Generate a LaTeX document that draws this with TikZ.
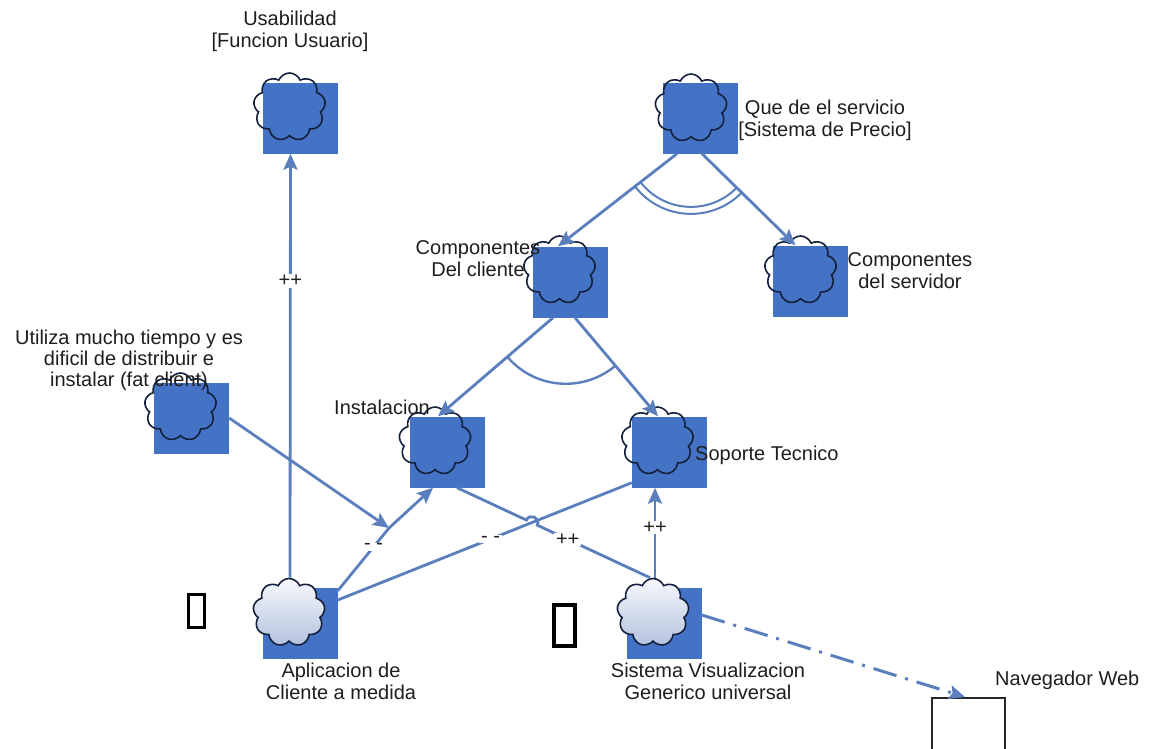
\documentclass[tikz,border=0pt]{standalone}
\usepackage{fontspec}
\setmainfont{Liberation Sans}
\usetikzlibrary{shapes.symbols,arrows.meta,calc}
\definecolor{goalblue}{HTML}{4472C4}
\definecolor{linkblue}{HTML}{5B7EBD}
\definecolor{puffline}{HTML}{14213D}
\definecolor{txt}{HTML}{1E1E1E}
\definecolor{softtop}{HTML}{F6F8FC}
\definecolor{softbot}{HTML}{B3C2DE}

\begin{document}
\begin{tikzpicture}[x=1pt,y=-1pt,
  goalbox/.style={rectangle, fill=goalblue, minimum width=75pt, minimum height=71pt, inner sep=0pt},
  puff/.style={cloud, cloud puffs=9, cloud puff arc=135, aspect=1.05, minimum width=72pt, minimum height=68pt, inner sep=0pt, draw=puffline, line width=1.6pt},
  softpuff/.style={puff, top color=softtop, bottom color=softbot},
  link/.style={draw=linkblue, line width=2.8pt},
  tip/.style={-{Stealth[length=16pt,width=14pt,inset=3pt]}},
  lbl/.style={font=\fontsize{20}{22}\selectfont, text=txt, inner sep=0pt, align=center},
  linklbl/.style={lbl, fill=white, inner xsep=2pt, inner ysep=1pt},
  tofu/.style={draw=black, inner sep=0pt}
]
\fill[white] (0,0) rectangle (1152,748);
\useasboundingbox (0,0) rectangle (1152,748);

% goals: blue square with a cloud outline on top
\node[goalbox] (usab)  at (300.5,118) {};
\node[goalbox] (que)   at (700,118) {};
\node[goalbox] (compc) at (570.5,282) {};
\node[goalbox] (comps) at (810.5,281) {};
\node[goalbox] (fat)   at (191.5,418) {};
\node[goalbox] (inst)  at (447,452) {};
\node[goalbox] (sop)   at (669.5,452) {};
\node[goalbox] (apl)   at (300,623.5) {};
\node[goalbox] (sis)   at (664,623.5) {};

\node[puff] (usabP)  at ($(usab)+(-11,-11)$) {};
\node[puff] (queP)   at ($(que)+(-9,-10)$) {};
\node[puff] (compcP) at ($(compc)+(-11,-12)$) {};
\node[puff] (compsP) at ($(comps)+(-10,-11)$) {};
\node[puff] (fatP)   at ($(fat)+(-11,-11)$) {};
\node[puff] (instP)  at ($(inst)+(-12,-11)$) {};
\node[puff] (sopP)   at ($(sop)+(-12,-11)$) {};
\node[softpuff] (aplP) at ($(apl)+(-11,-11)$) {};
\node[softpuff] (sisP) at ($(sis)+(-11,-11)$) {};

% labels
\node[lbl] (usabL)  at (290,31) {Usabilidad\\{[}Funcion Usuario{]}};
\node[lbl] (queL)   at (825,120) {Que de el servicio\\{[}Sistema de Precio{]}};
\node[lbl] (compcL) at (478,259) {Componentes\\Del cliente};
\node[lbl] (compsL) at (910,271) {Componentes\\del servidor};
\node[lbl, font=\fontsize{20}{21}\selectfont] (fatL) at (129,360) {Utiliza mucho tiempo y es\\dificil de distribuir e\\instalar (fat client)};
\node[lbl] (instL)  at (382,407) {Instalacion};
\node[lbl, anchor=west] (sopL) at (695,455) {Soporte Tecnico};
\node[lbl] (aplL)   at (341,681) {Aplicacion de\\Cliente a medida};
\node[lbl] (sisL)   at (708,681) {Sistema Visualizacion\\Generico universal};
\node[lbl, anchor=west] (navL) at (995,680) {Navegador Web};

% unrendered glyph boxes
\node[tofu, line width=3pt, minimum width=16pt, minimum height=33pt] (tofuA) at (196.5,611) {};
\node[tofu, line width=4pt, minimum width=21pt, minimum height=41pt] (tofuB) at (564.5,625.5) {};

% browser box, running off the lower edge
\begin{scope}
  \clip (0,0) rectangle (1152,748);
  \node[draw=black!85, line width=1.8pt, minimum width=73pt, minimum height=90pt, inner sep=0pt, anchor=north west] (nav) at (931,697) {};
\end{scope}

% AND decomposition of the service goal
\coordinate (q1)  at ([xshift=-23pt]que.south);
\coordinate (q1e) at ([xshift=-12.5pt]compc.north);
\coordinate (q2)  at ([xshift=2pt]que.south);
\coordinate (q2e) at ([xshift=-15pt]comps.north);
\draw[link,tip] (q1) -- (q1e);
\draw[link,tip] (q2) -- (q2e);
\coordinate (qa) at (intersection of q1--q1e and q2--q2e);
\begin{scope}
  \clip (qa) -- ($(qa)!3!(q1e)$) -- ($(qa)!3!(q2e)$) -- cycle;
  \draw[draw=linkblue, line width=2pt] (qa) circle[radius=64pt];
  \draw[draw=linkblue, line width=2pt] (qa) circle[radius=71pt];
\end{scope}

% AND decomposition of the client components
\coordinate (c1)  at ([xshift=-17.5pt]compc.south);
\coordinate (c1e) at ([xshift=-9pt]inst.north);
\coordinate (c2)  at ([xshift=4.5pt]compc.south);
\coordinate (c2e) at ([xshift=-11.5pt]sop.north);
\draw[link,tip] (c1) -- (c1e);
\draw[link,tip] (c2) -- (c2e);
\coordinate (ca) at (intersection of c1--c1e and c2--c2e);
\begin{scope}
  \clip (ca) -- ($(ca)!3!(c1e)$) -- ($(ca)!3!(c2e)$) -- cycle;
  \draw[draw=linkblue, line width=2.4pt] (ca) circle[radius=77pt];
\end{scope}

% contributions
\draw[link,tip] ([xshift=1pt]aplP.north) -- node[linklbl,pos=0.70]{++} ([xshift=-10pt]usab.south);

\coordinate (J) at (389,528);
\draw[link,tip] (fat.east) -- (J);
\draw[link,tip] ([yshift=-3pt]apl.north east) -- node[linklbl,pos=0.7]{- -} (J) -- ([xshift=-14pt]inst.south);

\coordinate (a1) at ([yshift=23.5pt]apl.east);
\coordinate (a2) at ([yshift=5pt]sop.south west);
\draw[link] (a1) -- node[linklbl,pos=0.52]{- -} (a2);

\coordinate (s1) at ([xshift=-3pt]sisP.north);
\coordinate (s2) at ([xshift=10pt]inst.south);
\coordinate (X) at (intersection of s1--s2 and a1--a2);
\coordinate (hA) at ($(X)!6pt!(s1)$);
\coordinate (hB) at ($(X)!6pt!(s2)$);
\draw[link] (s1) -- node[linklbl,pos=0.73]{++} (hA)
  .. controls ($(hA)!8pt!-90:(X)$) and ($(hB)!8pt!90:(X)$) .. (hB) -- (s2);

\draw[link,tip] ([xshift=2pt]sisP.north) -- node[linklbl,pos=0.56]{++} ([xshift=-14.5pt]sop.south);

% dependency on the web browser
\draw[link,tip,line width=3pt,dash pattern=on 24pt off 9pt on 3pt off 9pt]
  ([yshift=8.5pt]sis.east) -- ([xshift=34pt]nav.north west);
\end{tikzpicture}
\end{document}
